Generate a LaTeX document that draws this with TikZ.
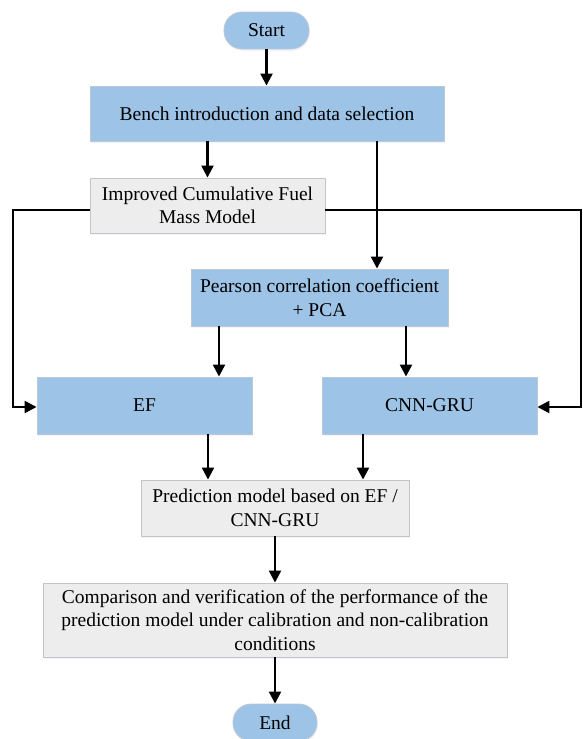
\documentclass[tikz,border=0pt]{standalone}
\usepackage{fontspec}
\setmainfont{Liberation Serif}
\usetikzlibrary{arrows.meta,shadows}
\definecolor{boxblue}{HTML}{9DC3E6}
\definecolor{blueedge}{HTML}{BCC8D4}
\definecolor{boxgray}{HTML}{EDEDED}
\definecolor{grayedge}{HTML}{C4C4C4}
\tikzset{
  basebox/.style={rectangle, inner sep=2pt, align=center, font=\fontsize{19.5}{23.5}\selectfont, line width=0.9pt,
    drop shadow={shadow xshift=1pt, shadow yshift=-2pt, opacity=0.18, fill=blue!25}},
  bluebox/.style={basebox, fill=boxblue, draw=blueedge},
  graybox/.style={basebox, fill=boxgray, draw=grayedge},
  terminal/.style={bluebox, rounded corners=18pt, minimum width=85pt, minimum height=37pt},
  arr/.style={line width=2.3pt, -{Triangle[length=12pt,width=12pt]}},
  ln/.style={line width=2.3pt}
}
\begin{document}
\begin{tikzpicture}[x=1pt,y=-1pt]
\useasboundingbox (0,0) rectangle (582,739);
\node[terminal] (start) at (266.5,30.5) {Start};
\node[bluebox, minimum width=354pt, minimum height=55pt] (bench) at (267,113.5) {Bench introduction and data selection};
\node[graybox, minimum width=235pt, minimum height=55pt] (impr) at (207.5,205.5) {Improved Cumulative Fuel\\Mass Model};
\node[bluebox, minimum width=257pt, minimum height=57pt] (pear) at (319.5,297.5) {Pearson correlation coefficient\\+ PCA};
\node[bluebox, minimum width=215pt, minimum height=57pt] (ef) at (144.5,405.5) {EF};
\node[bluebox, minimum width=215pt, minimum height=57pt] (cnn) at (429.5,405.5) {CNN-GRU};
\node[graybox, minimum width=268pt, minimum height=56pt] (pred) at (275,508) {Prediction model based on EF /\\CNN-GRU};
\node[graybox, minimum width=464pt, minimum height=74pt] (comp) at (275,620) {Comparison and verification of the performance of the\\prediction model under calibration and non-calibration\\conditions};
\node[terminal, minimum width=84pt] (end) at (275,722.5) {End};

\coordinate (xa) at (377,0);
\coordinate (xb) at (219,0);
\coordinate (xc) at (406,0);
\coordinate (xd) at (208,0);
\coordinate (xe) at (363,0);
\coordinate (xl) at (13,0);
\coordinate (xr) at (581,0);

\draw[arr] (start.south) -- (bench.north -| start.south);
\draw[arr] (bench.south -| impr.north) -- (impr.north);
\draw[arr] (bench.south -| xa) -- (pear.north -| xa);
\draw[arr] ([yshift=-4.5pt]impr.west) -- ([yshift=-4.5pt]impr.west -| xl) -- ([yshift=-1.5pt]ef.west -| xl) -- ([yshift=-1.5pt]ef.west);
\draw[arr] ([yshift=-4.5pt]impr.east) -- ([yshift=-4.5pt]impr.east -| xr) -- ([yshift=-1.5pt]cnn.east -| xr) -- ([yshift=-1.5pt]cnn.east);
\draw[arr] (pear.south -| xb) -- (ef.north -| xb);
\draw[arr] (pear.south -| xc) -- (cnn.north -| xc);
\draw[arr] (ef.south -| xd) -- (pred.north -| xd);
\draw[arr] (cnn.south -| xe) -- (pred.north -| xe);
\draw[arr] (pred.south) -- (comp.north);
\draw[arr] (comp.south) -- (end.north);
\end{tikzpicture}
\end{document}
